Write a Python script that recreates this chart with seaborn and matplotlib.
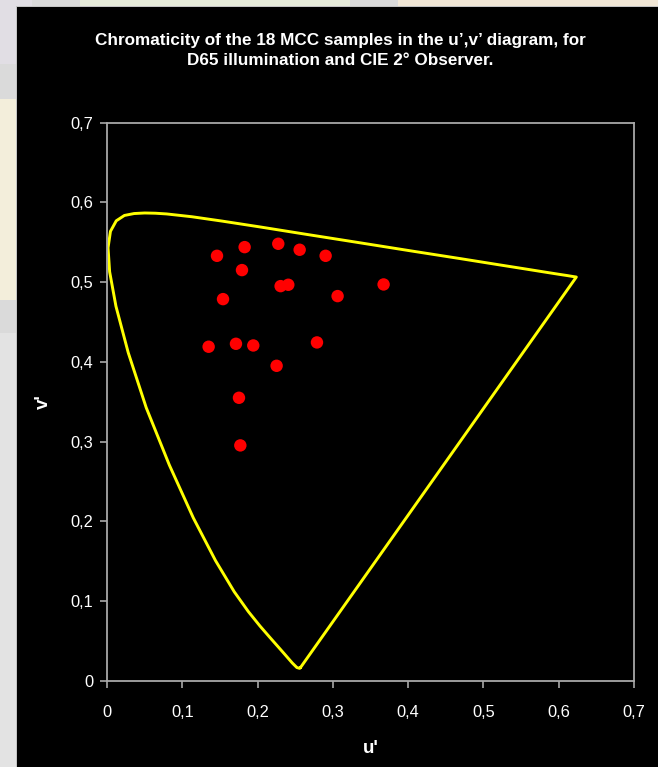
import numpy as np
import pandas as pd
import matplotlib
matplotlib.use("Agg")
import matplotlib.pyplot as plt
from matplotlib.patches import Rectangle
from matplotlib.ticker import FuncFormatter
import seaborn as sns

# Spectral locus of the CIE 1931 2° observer, expressed in CIE 1976 u',v'
wavelength_nm = [380, 410, 420, 430, 440, 450, 455, 460, 465, 470, 475, 480, 485,
                 490, 495, 500, 505, 510, 515, 520, 525, 530, 535, 540, 550, 560,
                 570, 580, 590, 600, 610, 620, 630, 640, 650, 660, 680, 700]
locus_u = [0.2568, 0.2557, 0.2522, 0.2461, 0.2347, 0.2161, 0.2033, 0.1877, 0.1690,
           0.1441, 0.1147, 0.0828, 0.0521, 0.0282, 0.0119, 0.0035, 0.0014, 0.0046,
           0.0123, 0.0231, 0.0360, 0.0501, 0.0643, 0.0792, 0.1127, 0.1531, 0.2026,
           0.2623, 0.3315, 0.4035, 0.4692, 0.5203, 0.5565, 0.5830, 0.6005, 0.6109,
           0.6199, 0.6234]
locus_v = [0.0166, 0.0159, 0.0169, 0.0226, 0.0350, 0.0549, 0.0688, 0.0871, 0.1119,
           0.1510, 0.2044, 0.2708, 0.3427, 0.4117, 0.4698, 0.5131, 0.5432, 0.5638,
           0.5770, 0.5837, 0.5861, 0.5868, 0.5865, 0.5856, 0.5821, 0.5766, 0.5694,
           0.5604, 0.5501, 0.5393, 0.5296, 0.5219, 0.5165, 0.5125, 0.5099, 0.5084,
           0.5070, 0.5065]

# Chromaticities of the 18 chromatic Macbeth ColorChecker patches (D65, 2°)
sample_u = [0.1461, 0.1828, 0.2275, 0.2559, 0.2904, 0.1793, 0.2408, 0.2306, 0.1541,
            0.3063, 0.3674, 0.1350, 0.1713, 0.1943, 0.2789, 0.2253, 0.1753, 0.1771]
sample_v = [0.5331, 0.5440, 0.5482, 0.5407, 0.5331, 0.5152, 0.4968, 0.4951, 0.4788,
            0.4826, 0.4972, 0.4191, 0.4228, 0.4207, 0.4245, 0.3952, 0.3551, 0.2954]

axis_ticks = [0.0, 0.1, 0.2, 0.3, 0.4, 0.5, 0.6, 0.7]

# Closed horseshoe: locus plus the purple line from 700 nm back to 380 nm
locus = pd.DataFrame({"u": locus_u + [locus_u[0]], "v": locus_v + [locus_v[0]]})
samples = pd.DataFrame({"u": sample_u, "v": sample_v})

sns.set_theme(style="white")
plt.rcParams["font.family"] = ["Liberation Sans", "DejaVu Sans"]

W, H = 658, 767
fig = plt.figure(figsize=(W / 100, H / 100), dpi=100)
fig.patch.set_facecolor("#e3e3e3")


def fig_rect(x0, y0, x1, y1, color, z=-2.0):
    """Rectangle given in pixel coordinates measured from the top-left corner."""
    fig.add_artist(Rectangle((x0 / W, 1 - y1 / H), (x1 - x0) / W, (y1 - y0) / H,
                             transform=fig.transFigure, facecolor=color,
                             edgecolor="none", zorder=z))


# surrounding window strips
fig_rect(0, 0, 32, 64, "#e1dee4")
fig_rect(0, 64, 17, 99, "#dadada")
fig_rect(0, 99, 17, 300, "#f3eedb")
fig_rect(0, 300, 17, 333, "#dadada")
fig_rect(32, 0, 80, 7, "#dadada")
fig_rect(80, 0, 350, 7, "#e6ebda")
fig_rect(350, 0, 398, 7, "#dadada")
fig_rect(398, 0, 658, 7, "#f2e8d7")
# chart panel
fig_rect(15.5, 5.5, 660, 770, "#c4c4c4", z=-1.5)
fig_rect(17, 7, 660, 770, "#000000", z=-1.0)

ax_left, ax_right = 107 / W, 634 / W
ax_top, ax_bottom = 1 - 122.7 / H, 1 - 681 / H
ax = fig.add_axes([ax_left, ax_bottom, ax_right - ax_left, ax_top - ax_bottom])
ax.set_zorder(1)
ax.set_facecolor("black")

sns.lineplot(data=locus, x="u", y="v", sort=False, estimator=None,
             color="#ffff00", linewidth=2.1, ax=ax, zorder=2)
sns.scatterplot(data=samples, x="u", y="v", color="#ff0000", s=80,
                edgecolor="none", ax=ax, zorder=3)

ax.set_xlim(0, 0.7)
ax.set_ylim(0, 0.7)
ax.set_xticks(axis_ticks)
ax.set_yticks(axis_ticks)


def comma_fmt(x, _):
    return "0" if abs(x) < 1e-9 else f"{x:.1f}".replace(".", ",")


ax.xaxis.set_major_formatter(FuncFormatter(comma_fmt))
ax.yaxis.set_major_formatter(FuncFormatter(comma_fmt))

grey = "#a8a8a8"
for sp in ax.spines.values():
    sp.set_visible(True)
    sp.set_color(grey)
    sp.set_linewidth(1.3)
ax.tick_params(axis="both", which="major", direction="out", length=5, width=1.2,
               color=grey, labelcolor="white", labelsize=11.8,
               bottom=True, left=True, top=False, right=False)
ax.tick_params(axis="y", pad=5)
ax.tick_params(axis="x", pad=12)

ax.set_xlabel("u'", color="white", fontsize=13.5, fontweight="bold", labelpad=15)
ax.set_ylabel("v'", color="white", fontsize=13.5, fontweight="bold", labelpad=13)

fig.text(340 / W, 1 - 50.5 / H,
         "Chromaticity of the 18 MCC samples in the u\u2019,v\u2019 diagram, for\n"
         "D65 illumination and CIE 2\u00b0 Observer.",
         ha="center", va="center", color="white", fontsize=12.3, fontweight="bold",
         linespacing=1.35, multialignment="center")

fig.savefig("out.png", dpi=100, facecolor=fig.get_facecolor())
